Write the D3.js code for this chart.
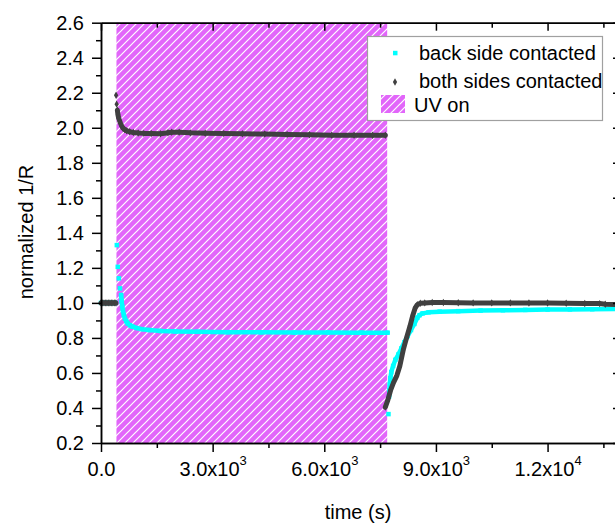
<!DOCTYPE html>
<html><head><meta charset="utf-8">
<script src="https://cdn.jsdelivr.net/npm/d3@7"></script>
<style>
body{margin:0;background:#fff}
svg{display:block}
text{font-family:"Liberation Sans",Arial,sans-serif;fill:#000}
</style>
</head><body>
<svg id="c" width="615" height="526"></svg>
<script>
// ---------------- data ----------------
const seriesNames = ["back side contacted", "both sides contacted"];
const shadeLabel = "UV on";
const uvOn = [415, 7690];

// both sides contacted (dark grey diamonds)
const blackPreT = [0, 40, 80, 120, 160, 200, 240, 280, 320, 360, 400];
const blackPreV = [1.0, 1.0, 1.0, 1.0, 1.0, 1.0, 1.0, 1.0, 1.0, 1.0, 1.0];
const blackSpikeT = [405, 420];
const blackSpikeV = [2.186, 2.135];
const blackUvT = [440, 455, 475, 500, 525, 555, 590, 635, 690, 770, 870, 1000, 1150, 1350, 1600, 1800, 1900, 2100, 2400, 2800, 3300, 3800, 4400, 5000, 5600, 6200, 6800, 7300, 7640];
const blackUvV = [2.10, 2.075, 2.055, 2.04, 2.025, 2.01, 1.998, 1.99, 1.983, 1.977, 1.973, 1.970, 1.968, 1.967, 1.966, 1.972, 1.975, 1.974, 1.971, 1.969, 1.967, 1.966, 1.964, 1.962, 1.960, 1.958, 1.957, 1.957, 1.957];
const blackRecT = [7640, 7700, 7780, 7860, 7950, 8030, 8120, 8210, 8300, 8380, 8440, 8500, 8580, 8700, 8900, 9200, 9600, 10000, 10500, 11000, 11500, 12000, 12500, 13000, 13400, 13550, 14000];
const blackRecV = [0.405, 0.44, 0.50, 0.545, 0.585, 0.64, 0.73, 0.80, 0.865, 0.93, 0.97, 0.99, 0.998, 1.0, 1.002, 1.002, 1.001, 1.0, 1.0, 1.0, 0.999, 0.999, 0.998, 0.997, 0.996, 0.992, 0.991];

// back side contacted (cyan squares)
const cyanPreT = [0, 40, 80, 120, 160, 200, 240, 280, 320, 360, 400];
const cyanPreV = [1.0, 1.0, 1.0, 1.0, 1.0, 1.0, 1.0, 1.0, 1.0, 1.0, 1.0];
const cyanSpikeT = [425, 450, 480, 510, 7725];
const cyanSpikeV = [1.33, 1.206, 1.14, 1.083, 0.365];
const cyanUvT = [540, 555, 570, 590, 615, 645, 680, 720, 780, 850, 950, 1100, 1300, 1600, 2000, 2600, 3400, 4300, 5200, 6100, 7000, 7700];
const cyanUvV = [1.045, 1.01, 0.98, 0.955, 0.93, 0.91, 0.895, 0.882, 0.872, 0.864, 0.857, 0.85, 0.845, 0.84, 0.837, 0.835, 0.833, 0.832, 0.831, 0.831, 0.83, 0.83];
const cyanRecT = [7740, 7750, 7760, 7775, 7800, 7850, 7910, 7990, 8070, 8150, 8240, 8330, 8420, 8500, 8560, 8640, 8800, 9100, 9600, 10200, 10800, 11400, 12000, 12600, 13200, 14000];
const cyanRecV = [0.465, 0.50, 0.535, 0.57, 0.605, 0.64, 0.675, 0.705, 0.74, 0.775, 0.81, 0.845, 0.88, 0.915, 0.93, 0.94, 0.946, 0.95, 0.953, 0.956, 0.958, 0.960, 0.962, 0.963, 0.964, 0.966];

// ticks
const yMajor = [0.2, 0.4, 0.6, 0.8, 1.0, 1.2, 1.4, 1.6, 1.8, 2.0, 2.2, 2.4, 2.6];
const yMinor = [0.3, 0.5, 0.7, 0.9, 1.1, 1.3, 1.5, 1.7, 1.9, 2.1, 2.3, 2.5];
const xMajor = [0, 3000, 6000, 9000, 12000];
const xMinor = [1500, 4500, 7500, 10500, 13500];
const xTickMantissa = ["0.0", "3.0", "6.0", "9.0", "1.2"];
const xTickExp = ["", "3", "3", "3", "4"];
const xTitle = "time (s)";
const yTitle = "normalized 1/R";

// ---------------- drawing ----------------
const svg = d3.select("#c");
const L = 101, R = 622, T = 22.7, B = 443;
const x = d3.scaleLinear().domain([0, 14000]).range([L, R]);
const y = d3.scaleLinear().domain([0.2, 2.6]).range([B, T]);

const BLACK = "#404040", CYAN = "#00ffff", SHADE = "#e266fa";

const defs = svg.append("defs");
const pat = defs.append("pattern").attr("id", "hatch")
  .attr("patternUnits", "userSpaceOnUse").attr("width", 8).attr("height", 8);
pat.append("rect").attr("width", 8).attr("height", 8).attr("fill", SHADE);
pat.append("path").attr("d", "M-2,2 L2,-2 M0,8 L8,0 M6,10 L10,6")
  .attr("stroke", "#fff").attr("stroke-width", 1.2);

// UV shading
svg.append("rect")
  .attr("x", x(uvOn[0])).attr("y", T)
  .attr("width", x(uvOn[1]) - x(uvOn[0])).attr("height", B - T)
  .attr("fill", "url(#hatch)");

const zip = (ts, vs) => ts.map((t, i) => [t, vs[i]]);
const line = d3.line().x(d => x(d[0])).y(d => y(d[1]));

function drawLine(data, color, w) {
  svg.append("path").datum(data).attr("d", line)
    .attr("fill", "none").attr("stroke", color).attr("stroke-width", w)
    .attr("stroke-linejoin", "round").attr("stroke-linecap", "round");
}
function drawSquares(data, color, s) {
  svg.append("g").selectAll("rect").data(data).join("rect")
    .attr("x", d => x(d[0]) - s / 2).attr("y", d => y(d[1]) - s / 2)
    .attr("width", s).attr("height", s).attr("fill", color);
}
const diamond = d3.symbol().type(d3.symbolDiamond).size(16);
function drawDiamonds(data, color) {
  svg.append("g").selectAll("path").data(data).join("path")
    .attr("d", diamond).attr("transform", d => `translate(${x(d[0])},${y(d[1])})`)
    .attr("fill", color);
}

// cyan series
[zip(cyanPreT, cyanPreV), zip(cyanUvT, cyanUvV), zip(cyanRecT, cyanRecV)].forEach(s => {
  drawLine(s, CYAN, 4.5); drawSquares(s, CYAN, 4.5);
});
drawSquares(zip(cyanSpikeT, cyanSpikeV), CYAN, 4.5);

// black series
[zip(blackPreT, blackPreV), zip(blackUvT, blackUvV), zip(blackRecT, blackRecV)].forEach(s => {
  drawLine(s, BLACK, 5); drawDiamonds(s, BLACK);
});
drawDiamonds(zip(blackSpikeT, blackSpikeV), BLACK);

// axes
function styleAxis(g) {
  g.selectAll("path.domain").attr("stroke", "#000").attr("stroke-width", 1.5);
  g.selectAll(".tick line").attr("stroke", "#000").attr("stroke-width", 1.5);
  g.selectAll("text").style("font-size", "20px").attr("fill", "#000");
}
// left
svg.append("g").attr("transform", `translate(${L},0)`)
  .call(d3.axisLeft(y).tickValues(yMinor).tickSize(5).tickSizeOuter(0).tickFormat(""))
  .call(styleAxis);
svg.append("g").attr("transform", `translate(${L},0)`)
  .call(d3.axisLeft(y).tickValues(yMajor).tickSize(9).tickPadding(8).tickSizeOuter(0).tickFormat(d3.format(".1f")))
  .call(styleAxis);
// right (inward)
svg.append("g").attr("transform", `translate(${R},0)`)
  .call(d3.axisLeft(y).tickValues(yMajor).tickSize(9).tickSizeOuter(0).tickFormat(""))
  .call(styleAxis);
// bottom
svg.append("g").attr("transform", `translate(0,${B})`)
  .call(d3.axisBottom(x).tickValues(xMinor).tickSize(5).tickSizeOuter(0).tickFormat(""))
  .call(styleAxis);
const bx = svg.append("g").attr("transform", `translate(0,${B})`)
  .call(d3.axisBottom(x).tickValues(xMajor).tickSize(9).tickSizeOuter(0).tickFormat(""))
  .call(styleAxis);
bx.selectAll(".tick").each(function (d, i) {
  const t = d3.select(this).append("text").attr("y", 33).attr("text-anchor", "middle")
    .style("font-size", "20px").attr("fill", "#000");
  if (xTickExp[i]) {
    t.append("tspan").text(xTickMantissa[i] + "x10");
    t.append("tspan").attr("dy", -11).style("font-size", "13px").text(xTickExp[i]);
  } else {
    t.text(xTickMantissa[i]);
  }
});
// top (inward)
svg.append("g").attr("transform", `translate(0,${T})`)
  .call(d3.axisTop(x).tickValues(xMinor).tickSize(-5).tickSizeOuter(0).tickFormat(""))
  .call(styleAxis);
svg.append("g").attr("transform", `translate(0,${T})`)
  .call(d3.axisTop(x).tickValues(xMajor).tickSize(-8).tickSizeOuter(0).tickFormat(""))
  .call(styleAxis);

// titles
svg.append("text").attr("x", 358).attr("y", 519).attr("text-anchor", "middle")
  .style("font-size", "20px").text(xTitle);
svg.append("text").attr("transform", "translate(33,232) rotate(-90)")
  .attr("text-anchor", "middle").style("font-size", "20px").text(yTitle);

// legend
const lg = svg.append("g");
lg.append("rect").attr("x", 367.5).attr("y", 36.5).attr("width", 235).attr("height", 84)
  .attr("fill", "#fff").attr("stroke", "#a0a0a0").attr("stroke-width", 1.2);
lg.append("rect").attr("x", 393).attr("y", 50.8).attr("width", 4.5).attr("height", 4.5).attr("fill", CYAN);
lg.append("path").attr("d", diamond).attr("transform", "translate(395,82)").attr("fill", BLACK);
lg.append("rect").attr("x", 381).attr("y", 95).attr("width", 24).attr("height", 18).attr("fill", "url(#hatch)");
lg.append("text").attr("x", 419).attr("y", 60).style("font-size", "20px").text(seriesNames[0]);
lg.append("text").attr("x", 419).attr("y", 88).style("font-size", "20px").text(seriesNames[1]);
lg.append("text").attr("x", 414).attr("y", 111.5).style("font-size", "20px").text(shadeLabel);
</script>
</body></html>
